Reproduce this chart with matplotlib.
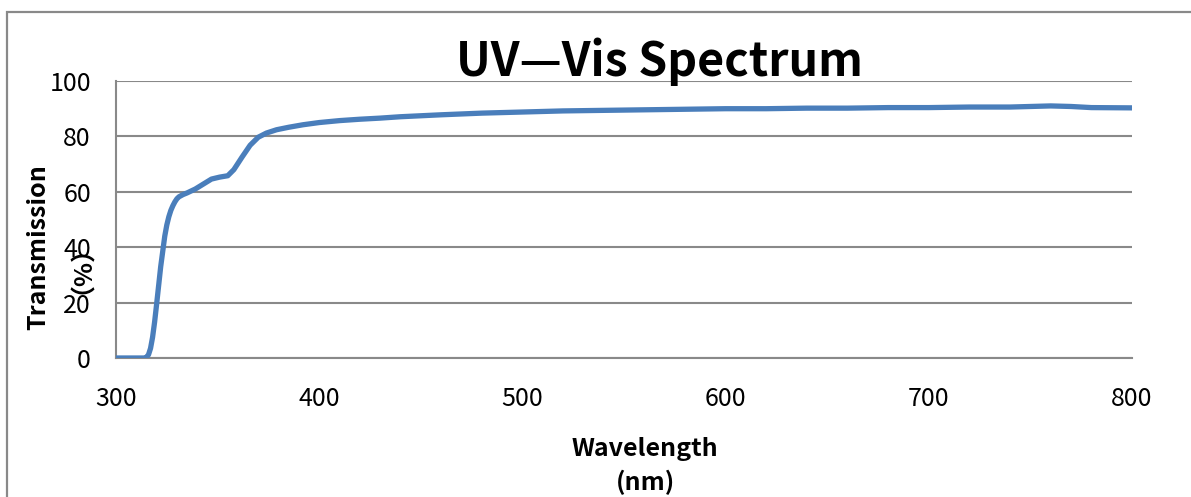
import matplotlib
matplotlib.use('Agg')
import matplotlib.pyplot as plt
from matplotlib.patches import Rectangle

# Transmission spectrum
wavelength = [300, 310, 314, 315, 316, 317, 318, 319, 320, 322, 324, 325, 326,
              327, 328, 329, 330, 331, 333, 335, 339, 343, 347, 351, 355, 358,
              362, 366, 370, 374, 379, 385, 392, 400, 410, 420, 430, 440, 460,
              480, 500, 520, 540, 560, 580, 600, 620, 640, 660, 680, 700, 720,
              740, 760, 770, 780, 800]
transmission = [0, 0, 0, 0.3, 1.2, 3.5, 7.5, 13, 19.5, 33, 44, 48, 51,
                53.3, 55, 56.4, 57.5, 58.2, 59, 59.6, 61, 62.8, 64.6, 65.3, 65.8, 68,
                72.5, 76.8, 79.7, 81.2, 82.4, 83.3, 84.2, 85.0, 85.7, 86.2, 86.6, 87.1, 87.8,
                88.4, 88.8, 89.2, 89.4, 89.6, 89.8, 90.0, 90.0, 90.2, 90.2, 90.4, 90.4, 90.6,
                90.6, 91.0, 90.8, 90.4, 90.3]
x_ticks = [300, 400, 500, 600, 700, 800]
y_ticks = [0, 20, 40, 60, 80, 100]

plt.rcParams['font.family'] = ['Noto Sans CJK SC', 'DejaVu Sans']

grid_col = '#898989'
fig = plt.figure(figsize=(11.91, 4.97), dpi=100)
ax = fig.add_axes([116 / 1191, 1 - 358 / 497, (1132 - 116) / 1191, (358 - 81) / 497])

# Outer chart border
fig.patches.append(Rectangle((7 / 1191, -0.1), 1.2, 1 - 12 / 497 + 0.1,
                             transform=fig.transFigure, fill=False,
                             edgecolor=grid_col, linewidth=1.6))

ax.plot(wavelength, transmission, color='#4A7EBB', linewidth=3.8,
        solid_capstyle='round', solid_joinstyle='round', zorder=3)

ax.set_xlim(300, 800)
ax.set_ylim(0, 100)
ax.set_xticks(x_ticks)
ax.set_yticks(y_ticks)
ax.tick_params(axis='x', length=0, pad=20, labelsize=18)
ax.tick_params(axis='y', length=0, pad=18, labelsize=18)
ax.yaxis.grid(True, color=grid_col, linewidth=1.5)
ax.set_axisbelow(True)
for s in ['top', 'right']:
    ax.spines[s].set_visible(False)
for s in ['left', 'bottom']:
    ax.spines[s].set_color(grid_col)
    ax.spines[s].set_linewidth(1.5)

fig.text(660 / 1191, 1 - 76 / 497, 'UV\u2014Vis Spectrum', ha='center',
         va='baseline', fontsize=33.5, fontweight='bold')
fig.text(645 / 1191, 1 - 466 / 497, 'Wavelength\n(nm)', ha='center',
         va='center', fontsize=18, fontweight='bold', linespacing=1.45)
# y label: two lines drawn separately, as in the reference the unit sits over the ticks
fig.text(38 / 1191, 1 - 247 / 497, 'Transmission', ha='center',
         va='center', rotation=90, fontsize=18, fontweight='bold')
fig.text(70 / 1191, 1 - 257 / 497, '（%）', ha='center',
         va='center', rotation=90, fontsize=18, fontweight='bold')

plt.savefig('out.png', dpi=100)
